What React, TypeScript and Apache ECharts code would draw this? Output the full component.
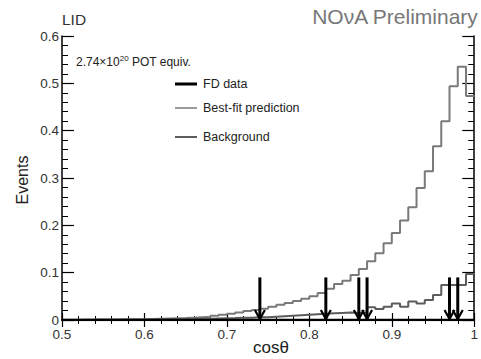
import React, { useEffect, useRef } from "react";
import * as echarts from "echarts";

// 50 bins of width 0.01 from cosθ = 0.50 to 1.00
const binLow = 0.5;
const binWidth = 0.01;

const prediction = [
  0.0005, 0.0005, 0.0007, 0.0008, 0.001, 0.001, 0.0012, 0.0014, 0.0016, 0.0018,
  0.002, 0.0025, 0.003, 0.0035, 0.004, 0.005, 0.006, 0.007, 0.009, 0.011,
  0.013, 0.016, 0.019, 0.021, 0.024, 0.028, 0.032, 0.036, 0.04, 0.045,
  0.05, 0.057, 0.066, 0.076, 0.083, 0.095, 0.108, 0.124, 0.141, 0.162,
  0.184, 0.21, 0.238, 0.279, 0.314, 0.367, 0.42, 0.494, 0.535, 0.473,
];

const background = [
  0.0002, 0.0002, 0.0003, 0.0003, 0.0004, 0.0004, 0.0005, 0.0006, 0.0007, 0.0008,
  0.001, 0.0012, 0.0014, 0.0016, 0.0018, 0.002, 0.0024, 0.0028, 0.0032, 0.0036,
  0.004, 0.005, 0.005, 0.006, 0.006, 0.007, 0.008, 0.009, 0.01, 0.011,
  0.012, 0.013, 0.014, 0.015, 0.016, 0.015, 0.016, 0.027, 0.023, 0.028,
  0.035, 0.028, 0.039, 0.035, 0.042, 0.053, 0.074, 0.074, 0.074, 0.097,
];

const fdData = new Array(50).fill(0);
const fdEventX = [0.74, 0.82, 0.86, 0.87, 0.97, 0.98];
const arrowTop = 0.09;

const xTicks = [0.5, 0.6, 0.7, 0.8, 0.9, 1.0];
const yTicks = [0, 0.1, 0.2, 0.3, 0.4, 0.5, 0.6];

function histPoints(vals: number[]) {
  const pts: number[][] = vals.map((v, i) => [Number((binLow + binWidth * i).toFixed(2)), v]);
  pts.push([Number((binLow + binWidth * vals.length).toFixed(2)), vals[vals.length - 1]]);
  return pts;
}

const FONT = "Liberation Sans, Arial, Helvetica, sans-serif";

export default function App() {
  const ref = useRef<HTMLDivElement>(null);
  useEffect(() => {
    document.body.style.margin = "0";
    const chart = echarts.init(ref.current!, undefined, { renderer: "svg" });
    const axisCommon = {
      type: "value" as const,
      axisLine: { show: true, lineStyle: { color: "#000", width: 1.5 } },
      splitLine: { show: false },
    };
    chart.setOption({
      animation: false,
      backgroundColor: "#fff",
      grid: { left: 62, right: 1, top: 36, bottom: 39 },
      xAxis: [
        {
          ...axisCommon,
          min: xTicks[0],
          max: xTicks[xTicks.length - 1],
          interval: 0.1,
          position: "bottom",
          axisTick: { show: true, inside: true, length: 7, lineStyle: { color: "#000", width: 1.2 } },
          minorTick: { show: true, splitNumber: 5, length: 4, lineStyle: { color: "#000", width: 1 } },
          axisLabel: {
            color: "#333",
            fontFamily: FONT,
            fontSize: 13.5,
            margin: 7,
            formatter: (v: number) => (v === 1 ? "1" : v.toFixed(1)),
          },
        },
        {
          ...axisCommon,
          min: xTicks[0],
          max: xTicks[xTicks.length - 1],
          interval: 0.1,
          position: "top",
          axisTick: { show: true, inside: true, length: 7, lineStyle: { color: "#000", width: 1.2 } },
          minorTick: { show: true, splitNumber: 5, length: 4, lineStyle: { color: "#000", width: 1 } },
          axisLabel: { show: false },
        },
      ],
      yAxis: [
        {
          ...axisCommon,
          min: yTicks[0],
          max: yTicks[yTicks.length - 1],
          interval: 0.1,
          position: "left",
          axisTick: { show: true, inside: true, length: 12, lineStyle: { color: "#000", width: 1.2 } },
          minorTick: { show: true, splitNumber: 5, length: 6, lineStyle: { color: "#000", width: 1 } },
          axisLabel: {
            color: "#333",
            fontFamily: FONT,
            fontSize: 13.5,
            margin: 3,
            formatter: (v: number) => (v === 0 ? "0" : v.toFixed(1)),
          },
        },
        {
          ...axisCommon,
          min: yTicks[0],
          max: yTicks[yTicks.length - 1],
          interval: 0.1,
          position: "right",
          axisTick: { show: true, inside: true, length: 12, lineStyle: { color: "#000", width: 1.2 } },
          minorTick: { show: true, splitNumber: 5, length: 6, lineStyle: { color: "#000", width: 1 } },
          axisLabel: { show: false },
        },
      ],
      series: [
        {
          name: "Best-fit prediction",
          type: "line",
          step: "end",
          data: histPoints(prediction),
          showSymbol: false,
          lineStyle: { color: "#7a7a7a", width: 2 },
          z: 2,
        },
        {
          name: "Background",
          type: "line",
          step: "end",
          data: histPoints(background),
          showSymbol: false,
          lineStyle: { color: "#5c5c5c", width: 2 },
          z: 3,
        },
        {
          name: "FD data",
          type: "line",
          step: "end",
          data: histPoints(fdData),
          showSymbol: false,
          lineStyle: { color: "#000", width: 2.5 },
          z: 4,
        },
        {
          name: "FD events",
          type: "custom",
          data: fdEventX.map((x) => [x, arrowTop]),
          z: 5,
          renderItem: (params: any, api: any) => {
            const x = api.value(0);
            const top = api.coord([x, api.value(1)]);
            const bot = api.coord([x, 0]);
            return {
              type: "group",
              children: [
                {
                  type: "line",
                  shape: { x1: top[0], y1: top[1], x2: bot[0], y2: bot[1] - 1 },
                  style: { stroke: "#000", lineWidth: 3 },
                },
                {
                  type: "polyline",
                  shape: {
                    points: [
                      [bot[0] - 5, bot[1] - 10],
                      [bot[0], bot[1] - 1],
                      [bot[0] + 5, bot[1] - 10],
                    ],
                  },
                  style: { stroke: "#000", lineWidth: 2.2, fill: "none" },
                },
              ],
            };
          },
        },
      ],
      graphic: [
        {
          type: "text",
          left: 62,
          top: 11,
          style: { text: "LID", fontFamily: FONT, fontSize: 15.5, fill: "#333" },
        },
        {
          type: "text",
          right: 2,
          top: 6,
          style: { text: "NOνA Preliminary", fontFamily: FONT, fontSize: 21, fill: "#777" },
        },
        {
          type: "text",
          left: 76,
          top: 54,
          style: {
            text: "2.74×10{sup|20} POT equiv.",
            fontFamily: FONT,
            fontSize: 12,
            fill: "#222",
            rich: {
              sup: { fontFamily: FONT, fontSize: 8, fill: "#222", padding: [0, 0, 7, 0] },
            },
          },
        },
        {
          type: "line",
          shape: { x1: 175, y1: 84, x2: 197, y2: 84 },
          style: { stroke: "#000", lineWidth: 3 },
        },
        {
          type: "text",
          left: 203,
          top: 77,
          style: { text: "FD data", fontFamily: FONT, fontSize: 12.5, fill: "#222" },
        },
        {
          type: "line",
          shape: { x1: 175, y1: 108, x2: 197, y2: 108 },
          style: { stroke: "#7a7a7a", lineWidth: 1.5 },
        },
        {
          type: "text",
          left: 203,
          top: 101,
          style: { text: "Best-fit prediction", fontFamily: FONT, fontSize: 12.5, fill: "#222" },
        },
        {
          type: "line",
          shape: { x1: 175, y1: 137, x2: 197, y2: 137 },
          style: { stroke: "#5c5c5c", lineWidth: 2 },
        },
        {
          type: "text",
          left: 203,
          top: 130,
          style: { text: "Background", fontFamily: FONT, fontSize: 12.5, fill: "#222" },
        },
        {
          type: "text",
          rotation: Math.PI / 2,
          style: {
            text: "Events",
            fontFamily: FONT,
            fontSize: 16,
            fill: "#222",
            align: "center",
            verticalAlign: "middle",
          },
          x: 22,
          y: 180,
        },
        {
          type: "text",
          x: 271,
          y: 347,
          style: {
            text: "cosθ",
            fontFamily: FONT,
            fontSize: 17,
            fill: "#222",
            align: "center",
            verticalAlign: "middle",
          },
        },
      ],
    });
    return () => chart.dispose();
  }, []);
  return <div ref={ref} style={{ width: 481, height: 359 }} />;
}
